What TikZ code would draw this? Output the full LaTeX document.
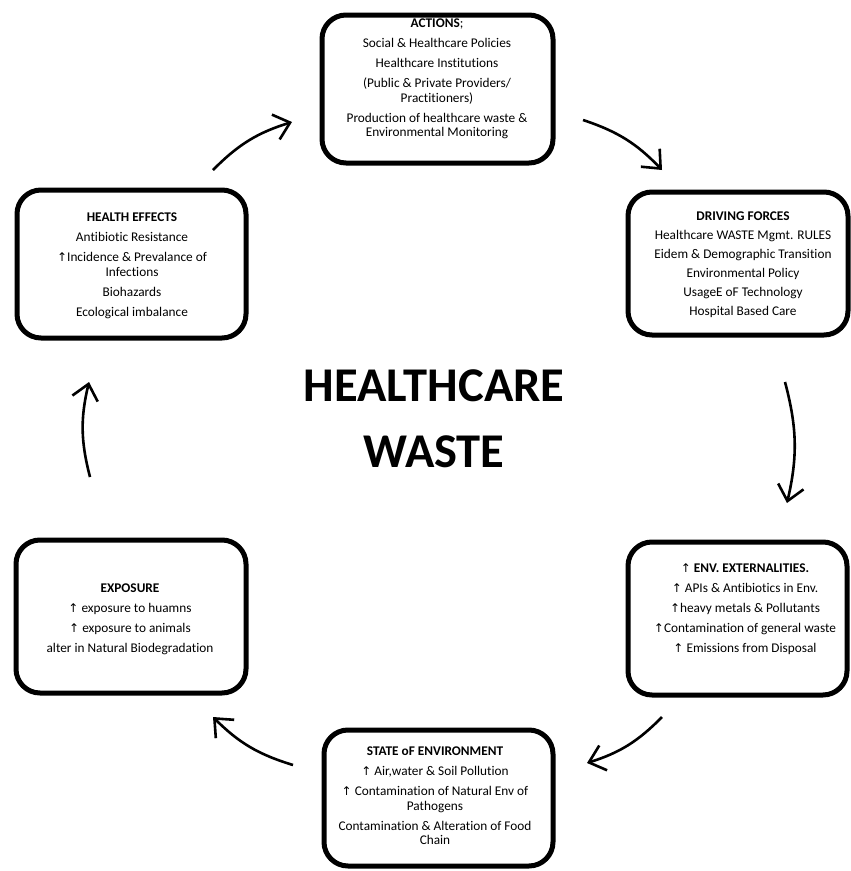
\documentclass[tikz,border=0pt]{standalone}
\usepackage{fontspec}
\setmainfont{Carlito}[Ligatures={NoCommon}]
\newfontfamily\symfont{DejaVu Sans}
\usetikzlibrary{arrows.meta}
\newcommand{\upar}{{\symfont\fontsize{12}{12}\selectfont\char"2191}}
\tikzset{
  stagebox/.style={draw, line width=5pt, rounded corners=24pt, inner sep=0pt},
  stagetext/.style={align=center, inner sep=0pt, anchor=north,
    font=\fontsize{13.3}{14.5}\selectfont},
  cycarrow/.style={line width=2.6pt, bend left=14,
    -{Straight Barb[length=15pt,width=26pt,line width=2.6pt]}},
  title/.style={align=center, inner sep=0pt,
    font=\bfseries\fontsize{48.5}{66}\selectfont}
}
\begin{document}
\begin{tikzpicture}[x=1pt,y=-1pt]
\useasboundingbox (0,0) rectangle (851,871);

% stage boxes
\node[stagebox, minimum width=231pt, minimum height=148pt] (act) at (437.5,89) {};
\node[stagebox, minimum width=220pt, minimum height=143pt] (drv) at (738,263.5) {};
\node[stagebox, minimum width=219pt, minimum height=153pt] (env) at (737.5,618.5) {};
\node[stagebox, minimum width=229pt, minimum height=136pt] (soe) at (438.5,798) {};
\node[stagebox, minimum width=230pt, minimum height=153pt] (exp) at (131,616.5) {};
\node[stagebox, minimum width=229pt, minimum height=148pt] (hlth) at (131.5,264) {};

% stage texts
\node[stagetext] (actT) at (437,19) {\textbf{ACTIONS};\\[5.5pt]
  Social \& Healthcare Policies\\[5.5pt]
  Healthcare Institutions\\[5.5pt]
  (Public \& Private Providers/\\ Practitioners)\\[5.5pt]
  Production of healthcare waste \&\\ Environmental Monitoring};
\node[stagetext] (drvT) at (743,212) {\textbf{DRIVING FORCES}\\[4.5pt]
  Healthcare WASTE Mgmt. RULES\\[4.5pt]
  Eidem \& Demographic Transition\\[4.5pt]
  Environmental Policy\\[4.5pt]
  UsageE oF Technology\\[4.5pt]
  Hospital Based Care};
\node[stagetext] (envT) at (745,564) {\upar\ \textbf{ENV. EXTERNALITIES.}\\[5.5pt]
  \upar\ APIs \& Antibiotics in Env.\\[5.5pt]
  \upar heavy metals \& Pollutants\\[5.5pt]
  \upar Contamination of general waste\\[5.5pt]
  \upar\ Emissions from Disposal};
\node[stagetext] (soeT) at (435,747) {\textbf{STATE oF ENVIRONMENT}\\[5.5pt]
  \upar\ Air,water \& Soil Pollution\\[5.5pt]
  \upar\ Contamination of Natural Env of\\ Pathogens\\[5.5pt]
  Contamination \& Alteration of Food\\ Chain};
\node[stagetext] (expT) at (130,584) {\textbf{EXPOSURE}\\[5.5pt]
  \upar\ exposure to huamns\\[5.5pt]
  \upar\ exposure to animals\\[5.5pt]
  alter in Natural Biodegradation};
\node[stagetext] (hlthT) at (132,213) {\textbf{HEALTH EFFECTS}\\[5.5pt]
  Antibiotic Resistance\\[5.5pt]
  \upar Incidence \& Prevalance of\\ Infections\\[5.5pt]
  Biohazards\\[5.5pt]
  Ecological imbalance};

% central title
\node[title] (ttl) at (434,419) {HEALTHCARE\\WASTE};

% arrow end points around the cycle
\coordinate (a1s) at (213,170); \coordinate (a1e) at (292,122);
\coordinate (a2s) at (583,120); \coordinate (a2e) at (662,170);
\coordinate (a3s) at (785,382); \coordinate (a3e) at (787,503);
\coordinate (a4s) at (662,717); \coordinate (a4e) at (587,763);
\coordinate (a5s) at (293,765); \coordinate (a5e) at (213,717);
\coordinate (a6s) at (90,477);  \coordinate (a6e) at (89,382);

\draw[cycarrow] (a1s) to (a1e);
\draw[cycarrow] (a2s) to (a2e);
\draw[cycarrow] (a3s) to (a3e);
\draw[cycarrow] (a4s) to (a4e);
\draw[cycarrow] (a5s) to (a5e);
\draw[cycarrow] (a6s) to (a6e);
\end{tikzpicture}
\end{document}
